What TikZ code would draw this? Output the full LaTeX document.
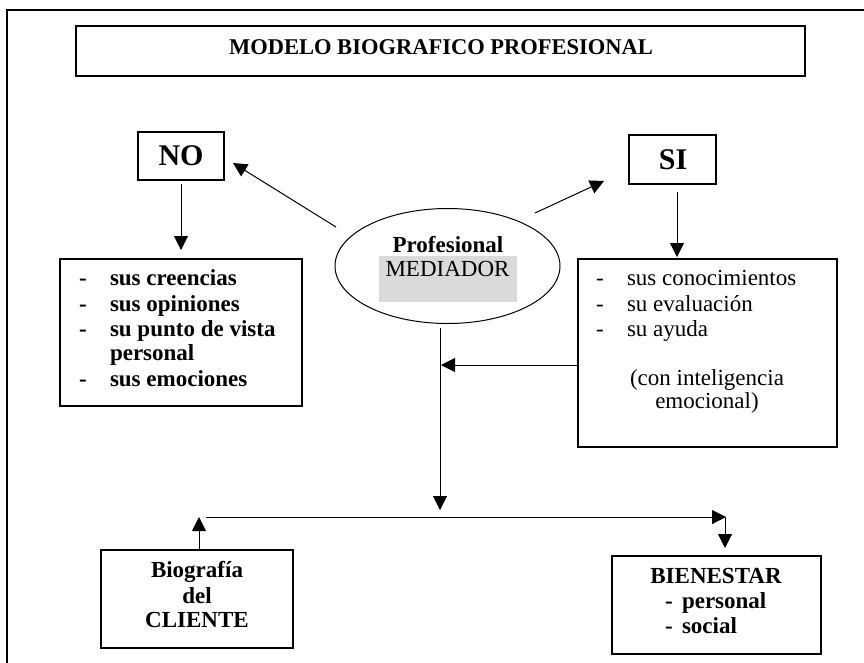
\documentclass[tikz,border=0pt]{standalone}
\usepackage{fontspec}
\setmainfont{Liberation Serif}
\usetikzlibrary{arrows.meta,shapes.geometric}
\definecolor{hilite}{HTML}{DADADA}
\begin{document}
\begin{tikzpicture}[x=1pt,y=-1pt,
  box/.style={draw, line width=1.2pt, inner sep=0pt, outer sep=0pt, anchor=north west},
  txt/.style={inner sep=0pt, outer sep=0pt, font=\fontsize{23}{25}\selectfont},
  btxt/.style={inner sep=0pt, outer sep=0pt, font=\fontsize{23}{25}\selectfont\bfseries},
  bigtxt/.style={inner sep=0pt, outer sep=0pt, font=\fontsize{30}{32}\selectfont\bfseries},
  arr/.style={line width=1pt, -{Triangle[length=14pt,width=14pt]}},
  wire/.style={line width=1pt}]
\useasboundingbox (0,0) rectangle (864,662);
\clip (0,0) rectangle (864,662);

% page frame (runs off the right and bottom edges)
\draw[line width=1.2pt] (7,680) -- (7,10) -- (880,10);

% title
\node[box, minimum width=729pt, minimum height=50pt] (title) at (76,26) {};
\node[btxt, anchor=base, font=\fontsize{22.5}{25}\selectfont\bfseries] (titletext) at (441,54) {MODELO BIOGRAFICO PROFESIONAL};

% NO / SI headers
\node[box, minimum width=86pt, minimum height=48pt] (nobox) at (138,132) {};
\node[bigtxt, anchor=base] (notext) at (181,165) {NO};
\node[box, minimum width=87pt, minimum height=49pt] (sibox) at (629,135) {};
\node[bigtxt, anchor=base] (sitext) at (673,169) {SI};

% central ellipse
\node[fill=hilite, inner sep=0pt, outer sep=0pt, anchor=north west,
      minimum width=138pt, minimum height=46pt] (medbg) at (379,256) {};
\node[draw, ellipse, line width=1pt, inner sep=0pt, outer sep=0pt,
      minimum width=225pt, minimum height=115pt] (med) at (447.5,266) {};
\node[btxt, anchor=base] (medtop) at (448,252) {Profesional};
\node[txt, anchor=base] (medbot) at (447.5,276) {MEDIADOR};

% NO list
\node[box, minimum width=242pt, minimum height=147pt] (nolist) at (60,259) {};
\foreach \y/\t [count=\i] in {285/sus creencias, 311/sus opiniones, 336/su punto de vista, 386/sus emociones}{
  \node[btxt, anchor=base west] (nodash\i) at (79,\y) {-};
  \node[btxt, anchor=base west] (noitem\i) at (110,\y) {\t};
}
\node[btxt, anchor=base west] (noitemcont) at (110,360) {personal};

% SI list
\node[box, minimum width=259pt, minimum height=188pt] (silist) at (578,259) {};
\foreach \y/\t [count=\i] in {285/sus conocimientos, 311/su evaluación, 336/su ayuda}{
  \node[txt, anchor=base west] (sidash\i) at (596,\y) {-};
  \node[txt, anchor=base west] (siitem\i) at (627,\y) {\t};
}
\node[txt, anchor=base] (sinote1) at (707,385) {(con inteligencia};
\node[txt, anchor=base] (sinote2) at (707,408) {emocional)};

% bottom boxes
\node[box, minimum width=192pt, minimum height=98pt] (bio) at (101,550) {};
\node[btxt, anchor=base] (bio1) at (197,577) {Biografía};
\node[btxt, anchor=base] (bio2) at (197,603) {del};
\node[btxt, anchor=base] (bio3) at (197,627) {CLIENTE};

\node[box, minimum width=209pt, minimum height=98pt] (bien) at (612,556) {};
\node[btxt, anchor=base] (bien1) at (716,583) {BIENESTAR};
\node[btxt, anchor=base west] (biend1) at (665,608) {-};
\node[btxt, anchor=base west] (bien2) at (682,608) {personal};
\node[btxt, anchor=base west] (biend2) at (665,633) {-};
\node[btxt, anchor=base west] (bien3) at (682,633) {social};

% connector end points
\coordinate (medNW) at (336,227);
\coordinate (noIn)  at (233,163);
\coordinate (medNE) at (535,213);
\coordinate (siIn)  at (604,181);
\coordinate (noOut) at (181,184);
\coordinate (noListIn) at (181,250);
\coordinate (siOut) at (677,192);
\coordinate (siListIn) at (677,257);
\coordinate (trunkTop) at (440,328);
\coordinate (trunkEnd) at (440,510);
\coordinate (siListOut) at (578,365);
\coordinate (trunkJoin) at (441,365);
\coordinate (bioOut) at (199,550);
\coordinate (busLeft) at (199,517);
\coordinate (busStart) at (206,517);
\coordinate (busRight) at (726,517);
\coordinate (bienDrop) at (725,517);
\coordinate (bienIn) at (725,548);

% connectors
\draw[arr] (medNW) -- (noIn);
\draw[arr] (medNE) -- (siIn);
\draw[arr] (noOut) -- (noListIn);
\draw[arr] (siOut) -- (siListIn);
\draw[arr] (trunkTop) -- (trunkEnd);
\draw[arr] (siListOut) -- (trunkJoin);
\draw[arr] (bioOut) -- (busLeft);
\draw[arr] (busStart) -- (busRight);
\draw[arr] (bienDrop) -- (bienIn);
\end{tikzpicture}
\end{document}
